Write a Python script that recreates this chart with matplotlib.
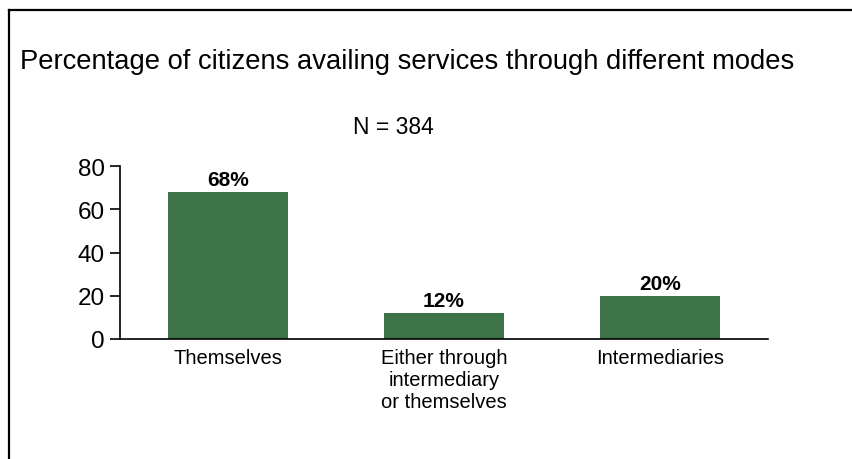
import matplotlib
matplotlib.use('Agg')
import matplotlib.pyplot as plt
from matplotlib.lines import Line2D

plt.rcParams['font.family'] = ['Liberation Sans', 'DejaVu Sans']

modes = ['Themselves', 'Either through\nintermediary\nor themselves', 'Intermediaries']
shares = [68, 12, 20]
yticks = [0, 20, 40, 60, 80]
bar_color = '#3c7448'

fig = plt.figure(figsize=(8.53, 4.60), dpi=100)
ax = fig.add_axes([120 / 853, 1 - 340 / 460, 648 / 853, 173 / 460])

x = range(len(modes))
ax.bar(x, shares, width=0.556, color=bar_color)
for xi, v in zip(x, shares):
    ax.text(xi, v + 1.5, f'{v}%', ha='center', va='bottom',
            fontsize=15, fontweight='bold')

ax.set_xlim(-0.5, 2.5)
ax.set_ylim(0, 80)
ax.set_yticks(yticks)
ax.set_xticks(list(x))
ax.set_xticklabels(modes, fontsize=14.5, linespacing=1.2)
ax.tick_params(axis='y', labelsize=17.5, length=7, width=1.2, pad=4)
ax.tick_params(axis='x', length=0, pad=6.5)
for side in ['top', 'right']:
    ax.spines[side].set_visible(False)
for side in ['left', 'bottom']:
    ax.spines[side].set_linewidth(1.2)

fig.text(20 / 853, 1 - 62 / 460, 'Percentage of citizens availing services through different modes',
         fontsize=19.7, ha='left', va='center')
fig.text(393 / 853, 1 - 127 / 460, 'N = 384', fontsize=16.5, ha='center', va='center')

# frame lines on the left and top edges
fig.add_artist(Line2D([9 / 853, 9 / 853], [0, 1 - 11 / 460], color='black', lw=1.6))
fig.add_artist(Line2D([9 / 853, 1], [1 - 11 / 460, 1 - 11 / 460], color='black', lw=1.6))

fig.savefig('out.png', dpi=100)
